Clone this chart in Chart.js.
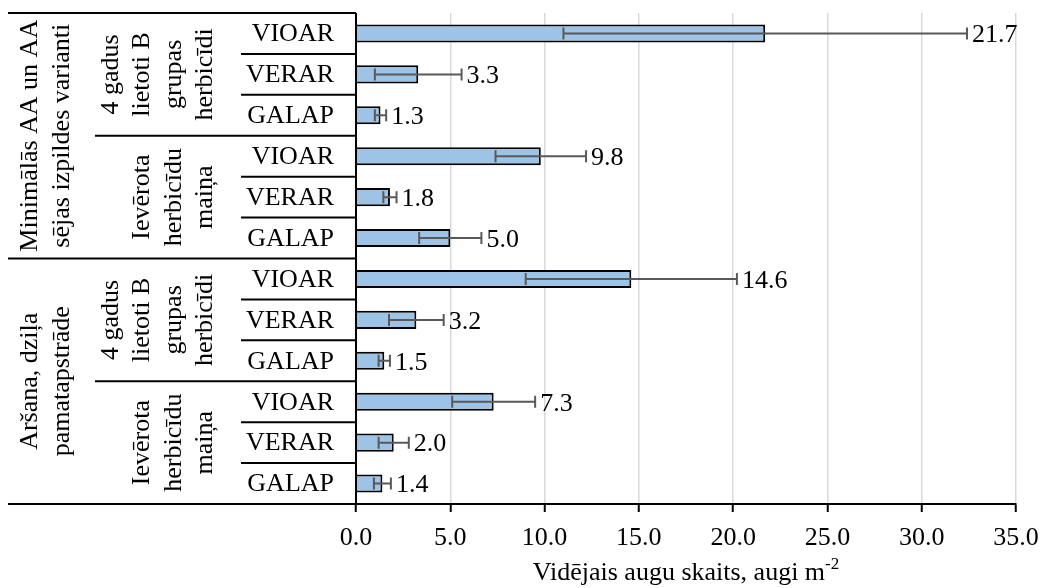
<!DOCTYPE html>
<html><head><meta charset="utf-8">
<script src="https://cdn.jsdelivr.net/npm/chart.js@4.4.0/dist/chart.umd.min.js"></script>
<style>html,body{margin:0;padding:0;background:#fff;} canvas{display:block;}</style>
</head><body>
<canvas id="c" width="1041" height="588"></canvas>
<script>
const categories = ['VIOAR','VERAR','GALAP','VIOAR','VERAR','GALAP','VIOAR','VERAR','GALAP','VIOAR','VERAR','GALAP'];
const values = [21.7, 3.3, 1.3, 9.8, 1.8, 5.0, 14.6, 3.2, 1.5, 7.3, 2.0, 1.4];
const errors = [10.7, 2.3, 0.3, 2.4, 0.35, 1.65, 5.6, 1.45, 0.3, 2.2, 0.8, 0.45];
const level2Labels = [
  ['4 gadus','lietoti B','grupas','herbicīdi'],
  ['Ievērota','herbicīdu','maiņa'],
  ['4 gadus','lietoti B','grupas','herbicīdi'],
  ['Ievērota','herbicīdu','maiņa']
];
const level2Spans = [3, 3, 3, 3];
const level1Labels = [
  ['Minimālās AA un AA','sējas izpildes varianti'],
  ['Aršana, dziļa','pamatapstrāde']
];
const level1Spans = [6, 6];
const xTickValues = [0, 5, 10, 15, 20, 25, 30, 35];
const axisTitleMain = 'Vidējais augu skaits, augi m';
const axisTitleSup = '-2';

const FONT = "'Liberation Serif', 'Times New Roman', serif";
const FS = 26;

function boundaries(chart) {
  const ys = chart.scales.y, ca = chart.chartArea;
  const b = [ca.top];
  for (let i = 1; i < categories.length; i++) {
    b.push((ys.getPixelForValue(i - 1) + ys.getPixelForValue(i)) / 2);
  }
  b.push(ca.bottom);
  return b;
}
function cumulative(spans) {
  const out = [0]; let s = 0;
  spans.forEach(v => { s += v; out.push(s); });
  return out;
}

const extrasPlugin = {
  id: 'extras',
  afterDatasetsDraw(chart) {
    const ctx = chart.ctx, xs = chart.scales.x;
    const meta = chart.getDatasetMeta(0);
    ctx.save();
    meta.data.forEach((bar, i) => {
      const y = bar.y;
      const x1 = xs.getPixelForValue(values[i] - errors[i]);
      const x2 = xs.getPixelForValue(values[i] + errors[i]);
      ctx.strokeStyle = '#595959';
      ctx.lineWidth = 2;
      ctx.beginPath();
      ctx.moveTo(x1, y); ctx.lineTo(x2, y);
      ctx.moveTo(x1, y - 6); ctx.lineTo(x1, y + 6);
      ctx.moveTo(x2, y - 6); ctx.lineTo(x2, y + 6);
      ctx.stroke();
      ctx.fillStyle = '#000';
      ctx.font = FS + 'px ' + FONT;
      ctx.textAlign = 'left';
      ctx.textBaseline = 'middle';
      ctx.fillText(values[i].toFixed(1), x2 + 5, y + 2);
    });
    ctx.restore();
  },
  afterDraw(chart) {
    const ctx = chart.ctx, ca = chart.chartArea, ys = chart.scales.y;
    const axisX = ca.left;
    const b = boundaries(chart);
    const c1 = cumulative(level1Spans), c2 = cumulative(level2Spans);
    const L1 = 8, L2 = 95, L3 = 241;
    ctx.save();
    ctx.strokeStyle = '#000';
    ctx.lineWidth = 2;
    ctx.beginPath();
    ctx.moveTo(axisX, ca.top); ctx.lineTo(axisX, ca.bottom);
    ctx.stroke();
    b.forEach((y, k) => {
      let left = L3;
      if (c1.includes(k)) left = L1; else if (c2.includes(k)) left = L2;
      ctx.beginPath();
      ctx.moveTo(left, y); ctx.lineTo(axisX, y);
      ctx.stroke();
    });
    ctx.fillStyle = '#000';
    ctx.font = FS + 'px ' + FONT;
    ctx.textAlign = 'right';
    ctx.textBaseline = 'middle';
    categories.forEach((c, i) => {
      ctx.fillText(c, axisX - 22, ys.getPixelForValue(i) + 1);
    });
    function rot(text, x, y) {
      ctx.save();
      ctx.translate(x, y);
      ctx.rotate(-Math.PI / 2);
      ctx.textAlign = 'center';
      ctx.textBaseline = 'middle';
      ctx.fillText(text, 0, 0);
      ctx.restore();
    }
    level2Labels.forEach((lines, g) => {
      const cy = (b[c2[g]] + b[c2[g + 1]]) / 2;
      const n = lines.length;
      lines.forEach((t, j) => rot(t, 205 - (n - 1 - j) * 31.3, cy));
    });
    level1Labels.forEach((lines, g) => {
      const cy = (b[c1[g]] + b[c1[g + 1]]) / 2;
      lines.forEach((t, j) => rot(t, 30 + j * 32, cy));
    });
    const mainFont = FS + 'px ' + FONT, supFont = '17px ' + FONT;
    ctx.font = mainFont;
    const w1 = ctx.measureText(axisTitleMain).width;
    ctx.font = supFont;
    const w2 = ctx.measureText(axisTitleSup).width;
    const cx = (ca.left + ca.right) / 2;
    const sx = cx - (w1 + w2) / 2;
    ctx.textAlign = 'left';
    ctx.textBaseline = 'alphabetic';
    ctx.font = mainFont;
    ctx.fillText(axisTitleMain, sx, 580);
    ctx.font = supFont;
    ctx.fillText(axisTitleSup, sx + w1, 569);
    ctx.restore();
  }
};

new Chart(document.getElementById('c'), {
  type: 'bar',
  data: {
    labels: categories,
    datasets: [{
      data: values,
      backgroundColor: '#9DC3E6',
      borderColor: '#000',
      borderWidth: 2,
      barPercentage: 0.44,
      categoryPercentage: 1
    }]
  },
  options: {
    indexAxis: 'y',
    responsive: false,
    animation: false,
    devicePixelRatio: 1,
    layout: { padding: { left: 356, right: 25, top: 13, bottom: 0 } },
    plugins: { legend: { display: false }, tooltip: { enabled: false } },
    scales: {
      y: { display: false },
      x: {
        min: 0, max: 35,
        afterBuildTicks(scale) { scale.ticks = xTickValues.map(v => ({ value: v })); },
        afterFit(scale) {
          scale.height = 84;
          scale.paddingLeft = 0;
          scale.paddingRight = 0;
        },
        ticks: {
          callback: v => Number(v).toFixed(1),
          color: '#000',
          font: { family: FONT, size: FS },
          padding: 11,
          maxRotation: 0
        },
        grid: {
          color: c => c.index === 0 ? 'rgba(0,0,0,0)' : '#d9d9d9',
          lineWidth: 1.5,
          tickColor: '#000',
          tickWidth: 2,
          tickLength: 8,
          drawTicks: true
        },
        border: { display: true, color: '#000', width: 2 }
      }
    }
  },
  plugins: [extrasPlugin]
});
</script>
</body></html>
